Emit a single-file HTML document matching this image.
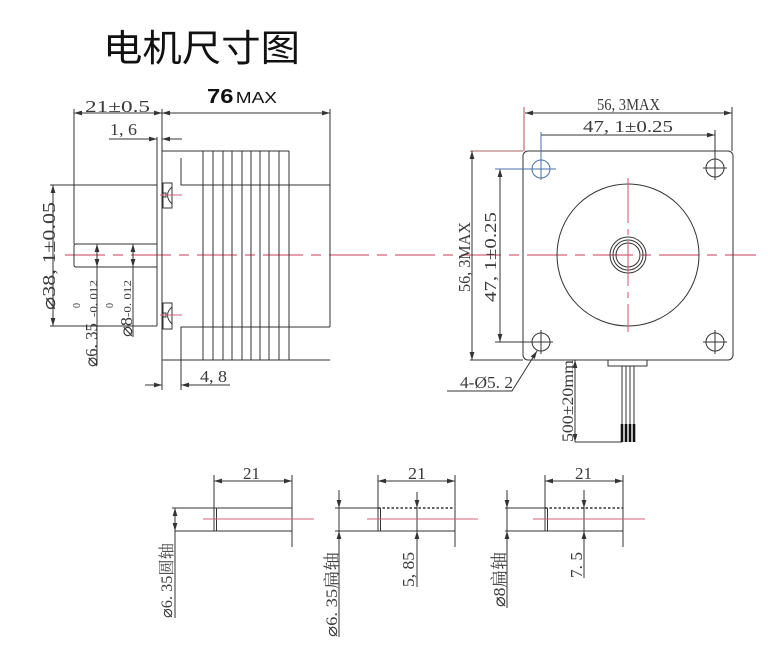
<!DOCTYPE html>
<html><head><meta charset="utf-8"><style>
html,body{margin:0;padding:0;background:#fff;}
svg{display:block;}
.t{font-family:"Liberation Serif","Noto Serif CJK SC",serif;fill:#3a3a3a;}
.s{font-family:"Liberation Sans","Noto Sans CJK SC",sans-serif;}
</style></head><body>
<svg width="779" height="665" viewBox="0 0 779 665" xmlns="http://www.w3.org/2000/svg">
<defs>
<marker id="a" viewBox="0 0 8 6" refX="8" refY="3" markerWidth="8" markerHeight="6" markerUnits="userSpaceOnUse" orient="auto-start-reverse"><path d="M0,0.6 L8,3 L0,5.4 z" fill="#333"/></marker>
</defs>
<rect width="779" height="665" fill="#fff"/>

<!-- Title -->
<text x="103" y="61" font-family="'Noto Sans CJK SC','WenQuanYi Zen Hei',sans-serif" font-size="37" fill="#111" textLength="197" lengthAdjust="spacingAndGlyphs">电机尺寸图</text>

<!-- center line -->
<line x1="65" y1="255" x2="756" y2="255" stroke="#d5607a" stroke-width="1.2" stroke-dasharray="40 8 10 8"/>

<g stroke="#333" stroke-width="1" fill="none">
<!-- LEFT VIEW -->
<line x1="74" y1="109" x2="74" y2="244"/>
<path d="M76,244 H157 V267 H76 Q74,267 74,265 V246 Q74,244 76,244 Z"/>
<line x1="74" y1="113" x2="162" y2="113" marker-start="url(#a)" marker-end="url(#a)"/>
<line x1="162" y1="113" x2="330" y2="113" marker-start="url(#a)" marker-end="url(#a)"/>
<line x1="162" y1="109" x2="162" y2="390"/>
<line x1="330" y1="109" x2="330" y2="327"/>
<line x1="157" y1="137" x2="157" y2="326"/>
<line x1="109" y1="139" x2="157" y2="139" marker-end="url(#a)"/>
<line x1="182" y1="139" x2="162" y2="139" marker-end="url(#a)"/>
<line x1="50" y1="185" x2="157" y2="185"/>
<line x1="50" y1="326" x2="157" y2="326"/>
<line x1="53" y1="185" x2="53" y2="326" marker-start="url(#a)" marker-end="url(#a)"/>
<line x1="162" y1="151" x2="289" y2="151"/>
<line x1="203" y1="151" x2="203" y2="360"/>
<line x1="213" y1="151" x2="213" y2="360"/>
<line x1="223" y1="151" x2="223" y2="360"/>
<line x1="232" y1="151" x2="232" y2="360"/>
<line x1="242" y1="151" x2="242" y2="360"/>
<line x1="251" y1="151" x2="251" y2="360"/>
<line x1="260" y1="151" x2="260" y2="360"/>
<line x1="269" y1="151" x2="269" y2="360"/>
<line x1="279" y1="151" x2="279" y2="360"/>
<line x1="289" y1="151" x2="289" y2="360"/>
<path d="M181,158 V185 H330"/>
<path d="M330,327 H181 V390"/>
<line x1="162" y1="360" x2="330" y2="360"/>
<rect x="163" y="183" width="9" height="25"/>
<path d="M172,187 Q163,195 172,204"/>
<rect x="163" y="193" width="3" height="4"/>
<rect x="163" y="303" width="9" height="26"/>
<path d="M172,307 Q163,315 172,324"/>
<rect x="163" y="313" width="3" height="4"/>
<line x1="145" y1="385" x2="162" y2="385" marker-end="url(#a)"/>
<line x1="230" y1="385" x2="181" y2="385" marker-end="url(#a)"/>
<line x1="97" y1="244" x2="97" y2="365"/>
<line x1="97" y1="255" x2="97" y2="244" marker-end="url(#a)"/>
<line x1="97" y1="256" x2="97" y2="267" marker-end="url(#a)"/>
<line x1="133" y1="244" x2="133" y2="337"/>
<line x1="133" y1="255" x2="133" y2="244" marker-end="url(#a)"/>
<line x1="133" y1="256" x2="133" y2="267" marker-end="url(#a)"/>

<!-- RIGHT VIEW -->
<rect x="523" y="151" width="210" height="209" rx="5"/>
<line x1="524" y1="107" x2="524" y2="151" stroke="#a55"/>
<line x1="732" y1="107" x2="732" y2="151"/>
<line x1="525" y1="113" x2="732" y2="113" marker-start="url(#a)" marker-end="url(#a)"/>
<line x1="715" y1="130" x2="715" y2="158"/>
<line x1="541" y1="135" x2="715" y2="135" marker-end="url(#a)"/>
<circle cx="715" cy="168" r="9"/>
<circle cx="541" cy="342" r="9"/>
<circle cx="715" cy="342" r="9"/>
<path d="M703,168 H727 M715,156 V180 M529,342 H553 M541,330 V354 M703,342 H727 M715,330 V354"/>
<circle cx="628" cy="255" r="71"/>
<circle cx="628" cy="255" r="18"/>
<circle cx="628" cy="255" r="15"/>
<circle cx="628" cy="255" r="12"/>
<line x1="470" y1="151" x2="523" y2="151" stroke="#a66"/>
<line x1="470" y1="360" x2="523" y2="360"/>
<line x1="472" y1="151" x2="472" y2="360" marker-start="url(#a)" marker-end="url(#a)"/>
<line x1="495" y1="342" x2="532" y2="342"/>
<line x1="500" y1="169" x2="500" y2="342" marker-start="url(#a)" marker-end="url(#a)"/>
<polyline points="447,391 512,391 537,351" marker-end="url(#a)"/>
<rect x="608" y="360" width="39" height="6"/>
<line x1="622" y1="366" x2="622" y2="442"/>
<line x1="626" y1="366" x2="626" y2="442"/>
<line x1="630" y1="366" x2="630" y2="442"/>
<line x1="634" y1="366" x2="634" y2="442"/>
<line x1="575" y1="360" x2="575" y2="442" marker-start="url(#a)" marker-end="url(#a)"/>
<line x1="575" y1="442" x2="622" y2="442"/>

<!-- BOTTOM SHAFT 1 -->
<line x1="214" y1="475" x2="214" y2="531"/>
<line x1="292" y1="475" x2="292" y2="547"/>
<line x1="214" y1="481" x2="292" y2="481" marker-start="url(#a)" marker-end="url(#a)"/>
<rect x="214" y="508" width="78" height="23"/>
<line x1="216.5" y1="508" x2="216.5" y2="531"/>
<line x1="172" y1="508" x2="214" y2="508"/>
<line x1="175" y1="531" x2="214" y2="531"/>
<line x1="175" y1="508" x2="175" y2="618"/>
<line x1="175" y1="519" x2="175" y2="508" marker-end="url(#a)"/>
<line x1="175" y1="520" x2="175" y2="531" marker-end="url(#a)"/>

<!-- BOTTOM SHAFT 2 -->
<line x1="378" y1="475" x2="378" y2="531"/>
<line x1="455" y1="475" x2="455" y2="547"/>
<line x1="378" y1="481" x2="455" y2="481" marker-start="url(#a)" marker-end="url(#a)"/>
<path d="M378,508 V531 H455 V508"/>
<line x1="378" y1="508" x2="455" y2="508" stroke-dasharray="2.5 2" stroke-width="1.4"/>
<line x1="380.5" y1="508" x2="380.5" y2="531"/>
<line x1="335" y1="508" x2="378" y2="508"/>
<line x1="335" y1="531" x2="378" y2="531"/>
<line x1="339" y1="490" x2="339" y2="508" marker-end="url(#a)"/>
<line x1="339" y1="508" x2="339" y2="531"/>
<line x1="339" y1="637" x2="339" y2="531" marker-end="url(#a)"/>
<line x1="417" y1="492" x2="417" y2="508" marker-end="url(#a)"/>
<line x1="417" y1="508" x2="417" y2="531"/>
<line x1="417" y1="587" x2="417" y2="531" marker-end="url(#a)"/>

<!-- BOTTOM SHAFT 3 -->
<line x1="545" y1="475" x2="545" y2="531"/>
<line x1="623" y1="475" x2="623" y2="547"/>
<line x1="545" y1="481" x2="623" y2="481" marker-start="url(#a)" marker-end="url(#a)"/>
<path d="M545,508 V531 H623 V508"/>
<line x1="545" y1="508" x2="623" y2="508" stroke-dasharray="2.5 2" stroke-width="1.4"/>
<line x1="547.5" y1="508" x2="547.5" y2="531"/>
<line x1="505" y1="508" x2="545" y2="508"/>
<line x1="505" y1="531" x2="545" y2="531"/>
<line x1="507" y1="490" x2="507" y2="508" marker-end="url(#a)"/>
<line x1="507" y1="508" x2="507" y2="531"/>
<line x1="507" y1="608" x2="507" y2="531" marker-end="url(#a)"/>
<line x1="584" y1="490" x2="584" y2="508" marker-end="url(#a)"/>
<line x1="584" y1="508" x2="584" y2="531"/>
<line x1="584" y1="578" x2="584" y2="531" marker-end="url(#a)"/>
</g>

<!-- wire ends -->
<g stroke="#111" stroke-width="2.6">
<line x1="622" y1="424" x2="622" y2="442"/>
<line x1="626" y1="424" x2="626" y2="442"/>
<line x1="630" y1="424" x2="630" y2="442"/>
<line x1="634" y1="424" x2="634" y2="442"/>
</g>

<!-- blue hole -->
<g stroke="#4a6fa8" stroke-width="1" fill="none">
<circle cx="541" cy="169" r="9"/>
<line x1="541" y1="132" x2="541" y2="180"/>
<line x1="495" y1="169" x2="556" y2="169"/>
</g>

<!-- red marks -->
<g stroke="#d5607a" stroke-width="1.1">
<line x1="628" y1="178" x2="628" y2="332" stroke-dasharray="45 6 6 6"/>
<line x1="160" y1="195" x2="182" y2="195"/>
<line x1="160" y1="315" x2="182" y2="315"/>
<line x1="203" y1="519" x2="314" y2="519"/>
<line x1="367" y1="519" x2="478" y2="519"/>
<line x1="533" y1="519" x2="645" y2="519"/>
</g>

<!-- TEXT horizontal -->
<text class="s" x="207" y="103" fill="#111" textLength="70" lengthAdjust="spacingAndGlyphs"><tspan font-size="20" font-weight="bold">76</tspan><tspan font-size="16" dx="2">MAX</tspan></text>
<text class="t" x="85" y="112" font-size="17" textLength="65" lengthAdjust="spacingAndGlyphs">21±0.5</text>
<text class="t" x="110" y="135" font-size="17" textLength="27" lengthAdjust="spacingAndGlyphs">1, 6</text>
<text class="t" x="200" y="382" font-size="17" textLength="27" lengthAdjust="spacingAndGlyphs">4, 8</text>
<text class="t" x="597" y="110" font-size="17" textLength="63" lengthAdjust="spacingAndGlyphs">56, 3MAX</text>
<text class="t" x="583" y="132" font-size="17" textLength="90" lengthAdjust="spacingAndGlyphs">47, 1±0.25</text>
<text class="t" x="460" y="388" font-size="17" textLength="53" lengthAdjust="spacingAndGlyphs">4-Ø5. 2</text>
<text class="t" x="243" y="479" font-size="17" textLength="17" lengthAdjust="spacingAndGlyphs">21</text>
<text class="t" x="408" y="479" font-size="17" textLength="18" lengthAdjust="spacingAndGlyphs">21</text>
<text class="t" x="575" y="479" font-size="17" textLength="17" lengthAdjust="spacingAndGlyphs">21</text>

<!-- TEXT vertical -->
<text class="t" transform="translate(55,310) rotate(-90)" font-size="18" textLength="108" lengthAdjust="spacingAndGlyphs">⌀38, 1±0.05</text>
<text class="t" transform="translate(97,367) rotate(-90)" font-size="17" textLength="44" lengthAdjust="spacingAndGlyphs">⌀6. 35</text>
<text class="t" transform="translate(97,317) rotate(-90)" font-size="11" textLength="37" lengthAdjust="spacingAndGlyphs">-0. 012</text>
<text class="t" transform="translate(80,308) rotate(-90)" font-size="10">0</text>
<text class="t" transform="translate(132,337) rotate(-90)" font-size="17" textLength="20" lengthAdjust="spacingAndGlyphs">⌀8</text>
<text class="t" transform="translate(131,317) rotate(-90)" font-size="11" textLength="37" lengthAdjust="spacingAndGlyphs">-0. 012</text>
<text class="t" transform="translate(113,308) rotate(-90)" font-size="10">0</text>
<text class="t" transform="translate(470,292) rotate(-90)" font-size="17" textLength="70" lengthAdjust="spacingAndGlyphs">56, 3MAX</text>
<text class="t" transform="translate(496,302) rotate(-90)" font-size="17" textLength="90" lengthAdjust="spacingAndGlyphs">47, 1±0.25</text>
<text class="t" transform="translate(573,442) rotate(-90)" font-size="16" textLength="82" lengthAdjust="spacingAndGlyphs">500±20mm</text>
<text class="t" transform="translate(172,618) rotate(-90)" font-size="16" textLength="75" lengthAdjust="spacingAndGlyphs">⌀6. 35圆轴</text>
<text class="t" transform="translate(337,637) rotate(-90)" font-size="16" textLength="85" lengthAdjust="spacingAndGlyphs">⌀6. 35扁轴</text>
<text class="t" transform="translate(414,587) rotate(-90)" font-size="17" textLength="35" lengthAdjust="spacingAndGlyphs">5, 85</text>
<text class="t" transform="translate(505,607) rotate(-90)" font-size="17" textLength="55" lengthAdjust="spacingAndGlyphs">⌀8扁轴</text>
<text class="t" transform="translate(582,578) rotate(-90)" font-size="17" textLength="26" lengthAdjust="spacingAndGlyphs">7. 5</text>
</svg>
</body></html>
